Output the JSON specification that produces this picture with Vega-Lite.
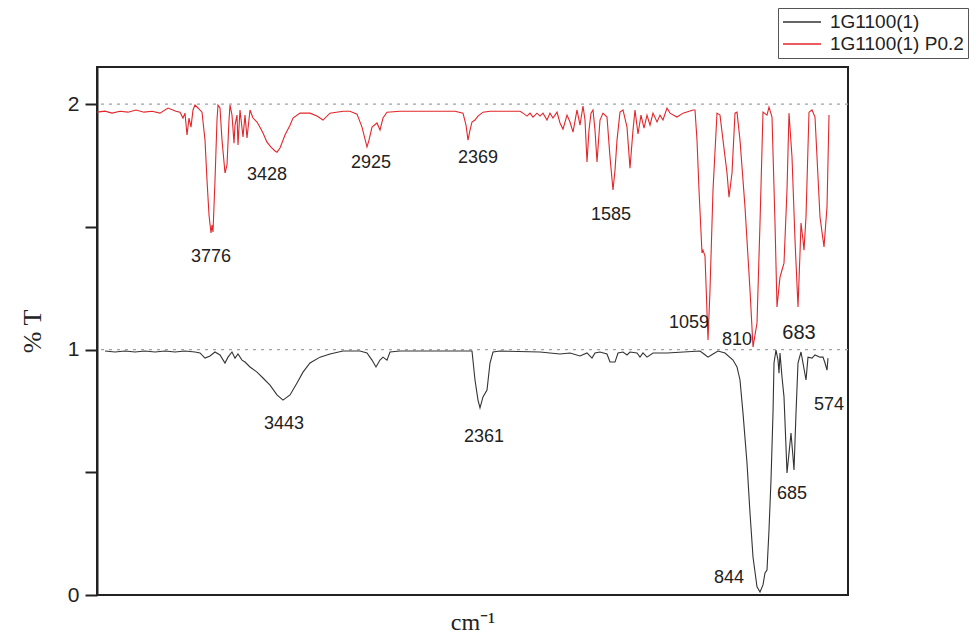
{
  "$schema": "https://vega.github.io/schema/vega-lite/v6.json",
  "width": 751,
  "height": 528,
  "autosize": "none",
  "padding": {"left": 97, "top": 67, "right": 128, "bottom": 45},
  "background": "white",
  "config": {
    "view": {"stroke": "#222222", "strokeWidth": 2},
    "font": "Liberation Sans"
  },
  "datasets": {
    "spectra": [
      {"series": "1G1100(1) P0.2", "wn": 4400, "t": 1.967},
      {"series": "1G1100(1) P0.2", "wn": 4356, "t": 1.971},
      {"series": "1G1100(1) P0.2", "wn": 4317.5, "t": 1.963},
      {"series": "1G1100(1) P0.2", "wn": 4273.5, "t": 1.971},
      {"series": "1G1100(1) P0.2", "wn": 4229.5, "t": 1.967},
      {"series": "1G1100(1) P0.2", "wn": 4185.5, "t": 1.976},
      {"series": "1G1100(1) P0.2", "wn": 4141.5, "t": 1.967},
      {"series": "1G1100(1) P0.2", "wn": 4097.5, "t": 1.971},
      {"series": "1G1100(1) P0.2", "wn": 4053.5, "t": 1.963},
      {"series": "1G1100(1) P0.2", "wn": 4009.5, "t": 1.984},
      {"series": "1G1100(1) P0.2", "wn": 3965.5, "t": 1.971},
      {"series": "1G1100(1) P0.2", "wn": 3943.5, "t": 1.967},
      {"series": "1G1100(1) P0.2", "wn": 3927, "t": 1.943},
      {"series": "1G1100(1) P0.2", "wn": 3916, "t": 1.963},
      {"series": "1G1100(1) P0.2", "wn": 3905, "t": 1.874},
      {"series": "1G1100(1) P0.2", "wn": 3894, "t": 1.943},
      {"series": "1G1100(1) P0.2", "wn": 3883, "t": 1.906},
      {"series": "1G1100(1) P0.2", "wn": 3872, "t": 1.976},
      {"series": "1G1100(1) P0.2", "wn": 3861, "t": 1.996},
      {"series": "1G1100(1) P0.2", "wn": 3844.5, "t": 1.984},
      {"series": "1G1100(1) P0.2", "wn": 3822.5, "t": 1.967},
      {"series": "1G1100(1) P0.2", "wn": 3806, "t": 1.853},
      {"series": "1G1100(1) P0.2", "wn": 3795, "t": 1.690},
      {"series": "1G1100(1) P0.2", "wn": 3784, "t": 1.548},
      {"series": "1G1100(1) P0.2", "wn": 3773, "t": 1.475},
      {"series": "1G1100(1) P0.2", "wn": 3767.5, "t": 1.507},
      {"series": "1G1100(1) P0.2", "wn": 3762, "t": 1.479},
      {"series": "1G1100(1) P0.2", "wn": 3751, "t": 1.690},
      {"series": "1G1100(1) P0.2", "wn": 3740, "t": 1.935},
      {"series": "1G1100(1) P0.2", "wn": 3734.5, "t": 1.996},
      {"series": "1G1100(1) P0.2", "wn": 3723.5, "t": 1.984},
      {"series": "1G1100(1) P0.2", "wn": 3712.5, "t": 1.853},
      {"series": "1G1100(1) P0.2", "wn": 3696, "t": 1.719},
      {"series": "1G1100(1) P0.2", "wn": 3685, "t": 1.752},
      {"series": "1G1100(1) P0.2", "wn": 3674, "t": 1.935},
      {"series": "1G1100(1) P0.2", "wn": 3668.5, "t": 1.996},
      {"series": "1G1100(1) P0.2", "wn": 3657.5, "t": 1.955},
      {"series": "1G1100(1) P0.2", "wn": 3646.5, "t": 1.841},
      {"series": "1G1100(1) P0.2", "wn": 3641, "t": 1.914},
      {"series": "1G1100(1) P0.2", "wn": 3630, "t": 1.955},
      {"series": "1G1100(1) P0.2", "wn": 3624.5, "t": 1.833},
      {"series": "1G1100(1) P0.2", "wn": 3613.5, "t": 1.976},
      {"series": "1G1100(1) P0.2", "wn": 3597, "t": 1.866},
      {"series": "1G1100(1) P0.2", "wn": 3586, "t": 1.955},
      {"series": "1G1100(1) P0.2", "wn": 3575, "t": 1.862},
      {"series": "1G1100(1) P0.2", "wn": 3558.5, "t": 1.976},
      {"series": "1G1100(1) P0.2", "wn": 3542, "t": 1.943},
      {"series": "1G1100(1) P0.2", "wn": 3520, "t": 1.927},
      {"series": "1G1100(1) P0.2", "wn": 3503.5, "t": 1.906},
      {"series": "1G1100(1) P0.2", "wn": 3487, "t": 1.882},
      {"series": "1G1100(1) P0.2", "wn": 3465, "t": 1.845},
      {"series": "1G1100(1) P0.2", "wn": 3443, "t": 1.825},
      {"series": "1G1100(1) P0.2", "wn": 3421, "t": 1.809},
      {"series": "1G1100(1) P0.2", "wn": 3410, "t": 1.804},
      {"series": "1G1100(1) P0.2", "wn": 3393.5, "t": 1.821},
      {"series": "1G1100(1) P0.2", "wn": 3366, "t": 1.874},
      {"series": "1G1100(1) P0.2", "wn": 3338.5, "t": 1.914},
      {"series": "1G1100(1) P0.2", "wn": 3322, "t": 1.943},
      {"series": "1G1100(1) P0.2", "wn": 3283.5, "t": 1.963},
      {"series": "1G1100(1) P0.2", "wn": 3228.5, "t": 1.963},
      {"series": "1G1100(1) P0.2", "wn": 3190, "t": 1.951},
      {"series": "1G1100(1) P0.2", "wn": 3157, "t": 1.935},
      {"series": "1G1100(1) P0.2", "wn": 3118.5, "t": 1.963},
      {"series": "1G1100(1) P0.2", "wn": 3047, "t": 1.971},
      {"series": "1G1100(1) P0.2", "wn": 3008.5, "t": 1.971},
      {"series": "1G1100(1) P0.2", "wn": 2970, "t": 1.959},
      {"series": "1G1100(1) P0.2", "wn": 2942.5, "t": 1.906},
      {"series": "1G1100(1) P0.2", "wn": 2915, "t": 1.825},
      {"series": "1G1100(1) P0.2", "wn": 2904, "t": 1.853},
      {"series": "1G1100(1) P0.2", "wn": 2887.5, "t": 1.906},
      {"series": "1G1100(1) P0.2", "wn": 2860, "t": 1.923},
      {"series": "1G1100(1) P0.2", "wn": 2843.5, "t": 1.894},
      {"series": "1G1100(1) P0.2", "wn": 2827, "t": 1.943},
      {"series": "1G1100(1) P0.2", "wn": 2805, "t": 1.967},
      {"series": "1G1100(1) P0.2", "wn": 2733.5, "t": 1.971},
      {"series": "1G1100(1) P0.2", "wn": 2623.5, "t": 1.971},
      {"series": "1G1100(1) P0.2", "wn": 2513.5, "t": 1.971},
      {"series": "1G1100(1) P0.2", "wn": 2431, "t": 1.971},
      {"series": "1G1100(1) P0.2", "wn": 2387, "t": 1.963},
      {"series": "1G1100(1) P0.2", "wn": 2370.5, "t": 1.914},
      {"series": "1G1100(1) P0.2", "wn": 2359.5, "t": 1.853},
      {"series": "1G1100(1) P0.2", "wn": 2348.5, "t": 1.894},
      {"series": "1G1100(1) P0.2", "wn": 2337.5, "t": 1.927},
      {"series": "1G1100(1) P0.2", "wn": 2321, "t": 1.935},
      {"series": "1G1100(1) P0.2", "wn": 2304.5, "t": 1.951},
      {"series": "1G1100(1) P0.2", "wn": 2277, "t": 1.967},
      {"series": "1G1100(1) P0.2", "wn": 2238.5, "t": 1.971},
      {"series": "1G1100(1) P0.2", "wn": 2183.5, "t": 1.971},
      {"series": "1G1100(1) P0.2", "wn": 2073.5, "t": 1.971},
      {"series": "1G1100(1) P0.2", "wn": 2057, "t": 1.963},
      {"series": "1G1100(1) P0.2", "wn": 2035, "t": 1.951},
      {"series": "1G1100(1) P0.2", "wn": 2018.5, "t": 1.963},
      {"series": "1G1100(1) P0.2", "wn": 2002, "t": 1.947},
      {"series": "1G1100(1) P0.2", "wn": 1980, "t": 1.963},
      {"series": "1G1100(1) P0.2", "wn": 1963.5, "t": 1.951},
      {"series": "1G1100(1) P0.2", "wn": 1947, "t": 1.963},
      {"series": "1G1100(1) P0.2", "wn": 1925, "t": 1.935},
      {"series": "1G1100(1) P0.2", "wn": 1908.5, "t": 1.963},
      {"series": "1G1100(1) P0.2", "wn": 1892, "t": 1.943},
      {"series": "1G1100(1) P0.2", "wn": 1870, "t": 1.967},
      {"series": "1G1100(1) P0.2", "wn": 1853.5, "t": 1.923},
      {"series": "1G1100(1) P0.2", "wn": 1837, "t": 1.898},
      {"series": "1G1100(1) P0.2", "wn": 1815, "t": 1.955},
      {"series": "1G1100(1) P0.2", "wn": 1798.5, "t": 1.927},
      {"series": "1G1100(1) P0.2", "wn": 1782, "t": 1.886},
      {"series": "1G1100(1) P0.2", "wn": 1760, "t": 1.976},
      {"series": "1G1100(1) P0.2", "wn": 1743.5, "t": 1.914},
      {"series": "1G1100(1) P0.2", "wn": 1727, "t": 1.992},
      {"series": "1G1100(1) P0.2", "wn": 1716, "t": 1.935},
      {"series": "1G1100(1) P0.2", "wn": 1705, "t": 1.764},
      {"series": "1G1100(1) P0.2", "wn": 1694, "t": 1.894},
      {"series": "1G1100(1) P0.2", "wn": 1683, "t": 1.963},
      {"series": "1G1100(1) P0.2", "wn": 1672, "t": 1.976},
      {"series": "1G1100(1) P0.2", "wn": 1661, "t": 1.894},
      {"series": "1G1100(1) P0.2", "wn": 1650, "t": 1.764},
      {"series": "1G1100(1) P0.2", "wn": 1633.5, "t": 1.935},
      {"series": "1G1100(1) P0.2", "wn": 1617, "t": 1.963},
      {"series": "1G1100(1) P0.2", "wn": 1595, "t": 1.947},
      {"series": "1G1100(1) P0.2", "wn": 1578.5, "t": 1.784},
      {"series": "1G1100(1) P0.2", "wn": 1562, "t": 1.650},
      {"series": "1G1100(1) P0.2", "wn": 1551, "t": 1.731},
      {"series": "1G1100(1) P0.2", "wn": 1540, "t": 1.853},
      {"series": "1G1100(1) P0.2", "wn": 1523.5, "t": 1.967},
      {"series": "1G1100(1) P0.2", "wn": 1507, "t": 1.976},
      {"series": "1G1100(1) P0.2", "wn": 1485, "t": 1.906},
      {"series": "1G1100(1) P0.2", "wn": 1468.5, "t": 1.739},
      {"series": "1G1100(1) P0.2", "wn": 1452, "t": 1.894},
      {"series": "1G1100(1) P0.2", "wn": 1441, "t": 1.976},
      {"series": "1G1100(1) P0.2", "wn": 1424.5, "t": 1.878},
      {"series": "1G1100(1) P0.2", "wn": 1408, "t": 1.955},
      {"series": "1G1100(1) P0.2", "wn": 1391.5, "t": 1.902},
      {"series": "1G1100(1) P0.2", "wn": 1375, "t": 1.955},
      {"series": "1G1100(1) P0.2", "wn": 1358.5, "t": 1.914},
      {"series": "1G1100(1) P0.2", "wn": 1342, "t": 1.963},
      {"series": "1G1100(1) P0.2", "wn": 1320, "t": 1.927},
      {"series": "1G1100(1) P0.2", "wn": 1303.5, "t": 1.955},
      {"series": "1G1100(1) P0.2", "wn": 1287, "t": 1.935},
      {"series": "1G1100(1) P0.2", "wn": 1265, "t": 1.984},
      {"series": "1G1100(1) P0.2", "wn": 1248.5, "t": 1.963},
      {"series": "1G1100(1) P0.2", "wn": 1210, "t": 1.947},
      {"series": "1G1100(1) P0.2", "wn": 1177, "t": 1.963},
      {"series": "1G1100(1) P0.2", "wn": 1122, "t": 1.976},
      {"series": "1G1100(1) P0.2", "wn": 1111, "t": 1.976},
      {"series": "1G1100(1) P0.2", "wn": 1100, "t": 1.853},
      {"series": "1G1100(1) P0.2", "wn": 1089, "t": 1.650},
      {"series": "1G1100(1) P0.2", "wn": 1072.5, "t": 1.393},
      {"series": "1G1100(1) P0.2", "wn": 1067, "t": 1.405},
      {"series": "1G1100(1) P0.2", "wn": 1056, "t": 1.381},
      {"series": "1G1100(1) P0.2", "wn": 1039.5, "t": 1.039},
      {"series": "1G1100(1) P0.2", "wn": 1028.5, "t": 1.242},
      {"series": "1G1100(1) P0.2", "wn": 1012, "t": 1.650},
      {"series": "1G1100(1) P0.2", "wn": 990, "t": 1.963},
      {"series": "1G1100(1) P0.2", "wn": 973.5, "t": 1.955},
      {"series": "1G1100(1) P0.2", "wn": 957, "t": 1.853},
      {"series": "1G1100(1) P0.2", "wn": 935, "t": 1.719},
      {"series": "1G1100(1) P0.2", "wn": 924, "t": 1.621},
      {"series": "1G1100(1) P0.2", "wn": 907.5, "t": 1.719},
      {"series": "1G1100(1) P0.2", "wn": 891, "t": 1.963},
      {"series": "1G1100(1) P0.2", "wn": 880, "t": 1.967},
      {"series": "1G1100(1) P0.2", "wn": 863.5, "t": 1.853},
      {"series": "1G1100(1) P0.2", "wn": 836, "t": 1.580},
      {"series": "1G1100(1) P0.2", "wn": 808.5, "t": 1.242},
      {"series": "1G1100(1) P0.2", "wn": 792, "t": 1.010},
      {"series": "1G1100(1) P0.2", "wn": 770, "t": 1.108},
      {"series": "1G1100(1) P0.2", "wn": 753.5, "t": 1.515},
      {"series": "1G1100(1) P0.2", "wn": 737, "t": 1.967},
      {"series": "1G1100(1) P0.2", "wn": 715, "t": 1.955},
      {"series": "1G1100(1) P0.2", "wn": 704, "t": 1.988},
      {"series": "1G1100(1) P0.2", "wn": 687.5, "t": 1.947},
      {"series": "1G1100(1) P0.2", "wn": 671, "t": 1.515},
      {"series": "1G1100(1) P0.2", "wn": 660, "t": 1.173},
      {"series": "1G1100(1) P0.2", "wn": 643.5, "t": 1.295},
      {"series": "1G1100(1) P0.2", "wn": 632.5, "t": 1.324},
      {"series": "1G1100(1) P0.2", "wn": 621.5, "t": 1.352},
      {"series": "1G1100(1) P0.2", "wn": 605, "t": 1.650},
      {"series": "1G1100(1) P0.2", "wn": 594, "t": 1.963},
      {"series": "1G1100(1) P0.2", "wn": 577.5, "t": 1.784},
      {"series": "1G1100(1) P0.2", "wn": 561, "t": 1.446},
      {"series": "1G1100(1) P0.2", "wn": 544.5, "t": 1.173},
      {"series": "1G1100(1) P0.2", "wn": 533.5, "t": 1.393},
      {"series": "1G1100(1) P0.2", "wn": 528, "t": 1.515},
      {"series": "1G1100(1) P0.2", "wn": 517, "t": 1.446},
      {"series": "1G1100(1) P0.2", "wn": 511.5, "t": 1.405},
      {"series": "1G1100(1) P0.2", "wn": 500.5, "t": 1.540},
      {"series": "1G1100(1) P0.2", "wn": 484, "t": 1.967},
      {"series": "1G1100(1) P0.2", "wn": 467.5, "t": 1.976},
      {"series": "1G1100(1) P0.2", "wn": 451, "t": 1.947},
      {"series": "1G1100(1) P0.2", "wn": 423.5, "t": 1.540},
      {"series": "1G1100(1) P0.2", "wn": 401.5, "t": 1.418},
      {"series": "1G1100(1) P0.2", "wn": 385, "t": 1.580},
      {"series": "1G1100(1) P0.2", "wn": 374, "t": 1.955},

      {"series": "1G1100(1)", "wn": 4356, "t": 0.994},
      {"series": "1G1100(1)", "wn": 4301, "t": 0.990},
      {"series": "1G1100(1)", "wn": 4246, "t": 0.994},
      {"series": "1G1100(1)", "wn": 4191, "t": 0.990},
      {"series": "1G1100(1)", "wn": 4136, "t": 0.994},
      {"series": "1G1100(1)", "wn": 4081, "t": 0.990},
      {"series": "1G1100(1)", "wn": 4026, "t": 0.994},
      {"series": "1G1100(1)", "wn": 3971, "t": 0.990},
      {"series": "1G1100(1)", "wn": 3916, "t": 0.994},
      {"series": "1G1100(1)", "wn": 3861, "t": 0.990},
      {"series": "1G1100(1)", "wn": 3833.5, "t": 0.986},
      {"series": "1G1100(1)", "wn": 3806, "t": 0.965},
      {"series": "1G1100(1)", "wn": 3778.5, "t": 0.974},
      {"series": "1G1100(1)", "wn": 3751, "t": 0.990},
      {"series": "1G1100(1)", "wn": 3723.5, "t": 0.978},
      {"series": "1G1100(1)", "wn": 3696, "t": 0.945},
      {"series": "1G1100(1)", "wn": 3679.5, "t": 0.969},
      {"series": "1G1100(1)", "wn": 3657.5, "t": 0.990},
      {"series": "1G1100(1)", "wn": 3641, "t": 0.965},
      {"series": "1G1100(1)", "wn": 3624.5, "t": 0.982},
      {"series": "1G1100(1)", "wn": 3602.5, "t": 0.957},
      {"series": "1G1100(1)", "wn": 3586, "t": 0.949},
      {"series": "1G1100(1)", "wn": 3558.5, "t": 0.929},
      {"series": "1G1100(1)", "wn": 3520, "t": 0.908},
      {"series": "1G1100(1)", "wn": 3487, "t": 0.884},
      {"series": "1G1100(1)", "wn": 3448.5, "t": 0.855},
      {"series": "1G1100(1)", "wn": 3410, "t": 0.815},
      {"series": "1G1100(1)", "wn": 3377, "t": 0.794},
      {"series": "1G1100(1)", "wn": 3338.5, "t": 0.815},
      {"series": "1G1100(1)", "wn": 3300, "t": 0.864},
      {"series": "1G1100(1)", "wn": 3267, "t": 0.908},
      {"series": "1G1100(1)", "wn": 3228.5, "t": 0.945},
      {"series": "1G1100(1)", "wn": 3173.5, "t": 0.969},
      {"series": "1G1100(1)", "wn": 3118.5, "t": 0.982},
      {"series": "1G1100(1)", "wn": 3047, "t": 0.994},
      {"series": "1G1100(1)", "wn": 2953.5, "t": 0.994},
      {"series": "1G1100(1)", "wn": 2915, "t": 0.986},
      {"series": "1G1100(1)", "wn": 2887.5, "t": 0.957},
      {"series": "1G1100(1)", "wn": 2865.5, "t": 0.929},
      {"series": "1G1100(1)", "wn": 2843.5, "t": 0.957},
      {"series": "1G1100(1)", "wn": 2827, "t": 0.969},
      {"series": "1G1100(1)", "wn": 2805, "t": 0.957},
      {"series": "1G1100(1)", "wn": 2788.5, "t": 0.990},
      {"series": "1G1100(1)", "wn": 2733.5, "t": 0.994},
      {"series": "1G1100(1)", "wn": 2513.5, "t": 0.994},
      {"series": "1G1100(1)", "wn": 2337.5, "t": 0.994},
      {"series": "1G1100(1)", "wn": 2321, "t": 0.876},
      {"series": "1G1100(1)", "wn": 2304.5, "t": 0.794},
      {"series": "1G1100(1)", "wn": 2293.5, "t": 0.762},
      {"series": "1G1100(1)", "wn": 2277, "t": 0.807},
      {"series": "1G1100(1)", "wn": 2255, "t": 0.835},
      {"series": "1G1100(1)", "wn": 2238.5, "t": 0.945},
      {"series": "1G1100(1)", "wn": 2222, "t": 0.990},
      {"series": "1G1100(1)", "wn": 2183.5, "t": 0.994},
      {"series": "1G1100(1)", "wn": 1963.5, "t": 0.990},
      {"series": "1G1100(1)", "wn": 1908.5, "t": 0.986},
      {"series": "1G1100(1)", "wn": 1853.5, "t": 0.982},
      {"series": "1G1100(1)", "wn": 1798.5, "t": 0.986},
      {"series": "1G1100(1)", "wn": 1743.5, "t": 0.974},
      {"series": "1G1100(1)", "wn": 1705, "t": 0.986},
      {"series": "1G1100(1)", "wn": 1677.5, "t": 0.965},
      {"series": "1G1100(1)", "wn": 1661, "t": 0.986},
      {"series": "1G1100(1)", "wn": 1633.5, "t": 0.990},
      {"series": "1G1100(1)", "wn": 1595, "t": 0.982},
      {"series": "1G1100(1)", "wn": 1578.5, "t": 0.949},
      {"series": "1G1100(1)", "wn": 1551, "t": 0.949},
      {"series": "1G1100(1)", "wn": 1534.5, "t": 0.986},
      {"series": "1G1100(1)", "wn": 1507, "t": 0.990},
      {"series": "1G1100(1)", "wn": 1485, "t": 0.978},
      {"series": "1G1100(1)", "wn": 1468.5, "t": 0.990},
      {"series": "1G1100(1)", "wn": 1430, "t": 0.986},
      {"series": "1G1100(1)", "wn": 1413.5, "t": 0.969},
      {"series": "1G1100(1)", "wn": 1397, "t": 0.986},
      {"series": "1G1100(1)", "wn": 1375, "t": 0.969},
      {"series": "1G1100(1)", "wn": 1342, "t": 0.986},
      {"series": "1G1100(1)", "wn": 1265, "t": 0.986},
      {"series": "1G1100(1)", "wn": 1083.5, "t": 0.994},
      {"series": "1G1100(1)", "wn": 1061.5, "t": 0.982},
      {"series": "1G1100(1)", "wn": 1039.5, "t": 0.969},
      {"series": "1G1100(1)", "wn": 1012, "t": 0.982},
      {"series": "1G1100(1)", "wn": 984.5, "t": 0.994},
      {"series": "1G1100(1)", "wn": 946, "t": 0.986},
      {"series": "1G1100(1)", "wn": 902, "t": 0.957},
      {"series": "1G1100(1)", "wn": 880, "t": 0.929},
      {"series": "1G1100(1)", "wn": 863.5, "t": 0.876},
      {"series": "1G1100(1)", "wn": 847, "t": 0.741},
      {"series": "1G1100(1)", "wn": 825, "t": 0.538},
      {"series": "1G1100(1)", "wn": 808.5, "t": 0.334},
      {"series": "1G1100(1)", "wn": 792, "t": 0.155},
      {"series": "1G1100(1)", "wn": 770, "t": 0.033},
      {"series": "1G1100(1)", "wn": 753.5, "t": 0.012},
      {"series": "1G1100(1)", "wn": 737, "t": 0.041},
      {"series": "1G1100(1)", "wn": 726, "t": 0.090},
      {"series": "1G1100(1)", "wn": 715, "t": 0.102},
      {"series": "1G1100(1)", "wn": 704, "t": 0.265},
      {"series": "1G1100(1)", "wn": 693, "t": 0.468},
      {"series": "1G1100(1)", "wn": 682, "t": 0.741},
      {"series": "1G1100(1)", "wn": 676.5, "t": 0.945},
      {"series": "1G1100(1)", "wn": 665.5, "t": 0.998},
      {"series": "1G1100(1)", "wn": 654.5, "t": 0.957},
      {"series": "1G1100(1)", "wn": 649, "t": 0.904},
      {"series": "1G1100(1)", "wn": 643.5, "t": 0.986},
      {"series": "1G1100(1)", "wn": 632.5, "t": 0.888},
      {"series": "1G1100(1)", "wn": 621.5, "t": 0.807},
      {"series": "1G1100(1)", "wn": 610.5, "t": 0.603},
      {"series": "1G1100(1)", "wn": 605, "t": 0.497},
      {"series": "1G1100(1)", "wn": 594, "t": 0.578},
      {"series": "1G1100(1)", "wn": 583, "t": 0.660},
      {"series": "1G1100(1)", "wn": 572, "t": 0.562},
      {"series": "1G1100(1)", "wn": 566.5, "t": 0.509},
      {"series": "1G1100(1)", "wn": 555.5, "t": 0.741},
      {"series": "1G1100(1)", "wn": 544.5, "t": 0.945},
      {"series": "1G1100(1)", "wn": 528, "t": 0.990},
      {"series": "1G1100(1)", "wn": 517, "t": 0.945},
      {"series": "1G1100(1)", "wn": 500.5, "t": 0.876},
      {"series": "1G1100(1)", "wn": 489.5, "t": 0.969},
      {"series": "1G1100(1)", "wn": 467.5, "t": 0.965},
      {"series": "1G1100(1)", "wn": 451, "t": 0.978},
      {"series": "1G1100(1)", "wn": 423.5, "t": 0.969},
      {"series": "1G1100(1)", "wn": 407, "t": 0.969},
      {"series": "1G1100(1)", "wn": 396, "t": 0.945},
      {"series": "1G1100(1)", "wn": 385, "t": 0.916},
      {"series": "1G1100(1)", "wn": 379.5, "t": 0.965}
    ],
    "peaks": [
      {"label": "3776", "wn": 3773, "t": 1.377},
      {"label": "3428", "wn": 3465, "t": 1.711},
      {"label": "2925", "wn": 2893, "t": 1.760},
      {"label": "2369", "wn": 2304.5, "t": 1.780},
      {"label": "1585", "wn": 1573, "t": 1.548},
      {"label": "1059", "wn": 1144, "t": 1.108},
      {"label": "810", "wn": 880, "t": 1.039},
      {"label": "683", "wn": 539, "t": 1.067},
      {"label": "3443", "wn": 3371.5, "t": 0.697},
      {"label": "2361", "wn": 2271.5, "t": 0.644},
      {"label": "844", "wn": 924, "t": 0.069},
      {"label": "685", "wn": 577.5, "t": 0.411},
      {"label": "574", "wn": 374, "t": 0.774}
    ],
    "refs": [{"t": 1}, {"t": 2}]
  },
  "layer": [
    {
      "data": {"name": "refs"},
      "mark": {"type": "rule", "color": "#9aa3ad", "strokeDash": [3, 5], "strokeWidth": 1.3},
      "encoding": {
        "y": {
          "field": "t",
          "type": "quantitative",
          "scale": {"domain": [0, 2.151], "nice": false, "zero": false},
          "axis": {
            "values": [0, 0.5, 1, 1.5, 2],
            "labelExpr": "datum.value % 1 == 0 ? format(datum.value, 'd') : ''",
            "tickSize": 12,
            "tickWidth": 2,
            "tickColor": "#222222",
            "domainColor": "#222222",
            "domainWidth": 2,
            "labelFontSize": 21,
            "labelColor": "#222222",
            "labelPadding": 6,
            "grid": false,
            "title": "% T",
            "titleFont": "Liberation Serif",
            "titleFontSize": 26,
            "titleFontWeight": "normal",
            "titleColor": "#222222",
            "titlePadding": 22
          }
        }
      }
    },
    {
      "data": {"name": "spectra"},
      "mark": {"type": "line", "strokeWidth": 1.1},
      "encoding": {
        "x": {
          "field": "wn",
          "type": "quantitative",
          "scale": {"domain": [269.5, 4400], "reverse": true, "nice": false, "zero": false},
          "axis": {
            "labels": false,
            "ticks": false,
            "domain": false,
            "grid": false,
            "title": "cm⁻¹",
            "titleFont": "Liberation Serif",
            "titleFontSize": 24,
            "titleFontWeight": "normal",
            "titleColor": "#222222",
            "titlePadding": 15
          }
        },
        "y": {"field": "t", "type": "quantitative"},
        "color": {
          "field": "series",
          "type": "nominal",
          "scale": {"domain": ["1G1100(1)", "1G1100(1) P0.2"], "range": ["#333333", "#e3262b"]},
          "legend": {
            "orient": "none",
            "legendX": 681,
            "legendY": -59,
            "title": null,
            "symbolType": "stroke",
            "symbolSize": 1444,
            "symbolStrokeWidth": 1.5,
            "labelFontSize": 19,
            "labelFont": "Liberation Sans",
            "labelColor": "#222222",
            "labelLimit": 300,
            "labelOffset": 8,
            "clipHeight": 20,
            "strokeColor": "#555555",
            "fillColor": "white",
            "padding": 4,
            "rowPadding": 2
          }
        }
      }
    },
    {
      "data": {"name": "peaks"},
      "mark": {"type": "text", "font": "Liberation Sans", "color": "#222222", "align": "center", "baseline": "middle"},
      "encoding": {
        "x": {"field": "wn", "type": "quantitative"},
        "y": {"field": "t", "type": "quantitative"},
        "text": {"field": "label", "type": "nominal"},
        "size": {"condition": {"test": "datum.label === '683'", "value": 20}, "value": 18}
      }
    }
  ]
}
